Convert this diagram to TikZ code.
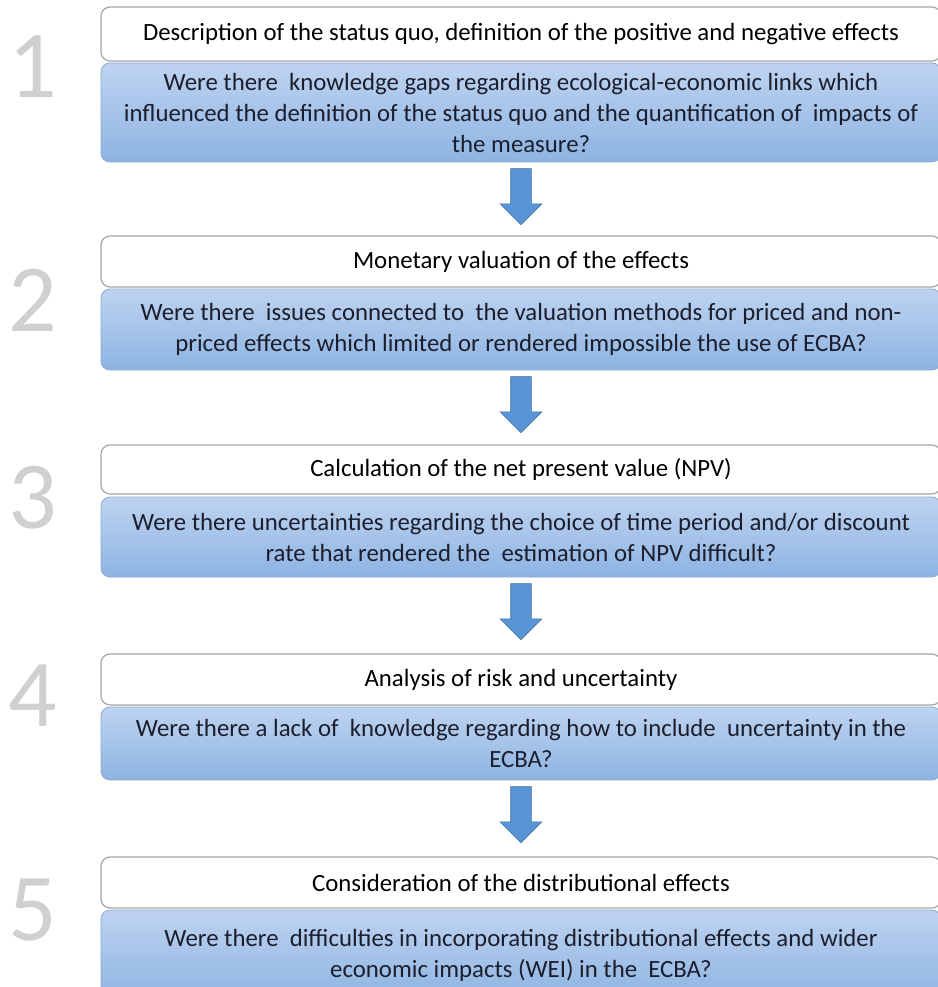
\documentclass[tikz,border=0pt]{standalone}
\usepackage{fontspec}
\setmainfont{Carlito}
\usetikzlibrary{shapes.arrows,positioning}
\definecolor{qtop}{RGB}{190,211,240}
\definecolor{qbottom}{RGB}{141,180,226}
\definecolor{qedge}{RGB}{140,170,212}
\definecolor{qtext}{RGB}{28,30,45}
\definecolor{tedge}{RGB}{166,166,166}
\definecolor{arrowfill}{RGB}{88,148,214}
\definecolor{arrowedge}{RGB}{65,113,156}
\definecolor{numgray}{RGB}{208,208,208}
\tikzset{
    titlebox/.style={rectangle, rounded corners=9pt, draw=tedge, line width=1.2pt, fill=white,
        minimum width=840pt, inner sep=0pt, font=\fontsize{24.8}{31}\selectfont}
}
\tikzset{
    questionbox/.style={rectangle, rounded corners=9pt, draw=qedge, line width=0.8pt,
        top color=qtop, bottom color=qbottom, minimum width=840pt, inner sep=0pt,
        align=center, text=qtext, font=\fontsize{24.8}{31}\selectfont}
}
\tikzset{stepnum/.style={text=numgray, inner sep=0pt, font=\fontsize{96}{96}\selectfont}}
\tikzset{
    downarrow/.style={single arrow, shape border rotate=270, draw=arrowedge, fill=arrowfill,
        line width=0.6pt, minimum height=56pt, inner sep=10pt, single arrow head extend=10.5pt}
}

\begin{document}
\begin{tikzpicture}[x=1pt, y=-1pt]
    \useasboundingbox (0,0) rectangle (937,987);

    \node (t1) [titlebox, minimum height=54pt] at (521,34) {Description of the status quo, definition of the positive and negative effects};
    \node (q1) [questionbox, minimum height=99pt] at (521,112.5) {Were there~ knowledge gaps regarding ecological-economic links which\\influenced the definition of the status quo and the quantification of~ impacts of\\the measure?};
    \node (n1) [stepnum] at (33,67) {1};

    \node (t2) [titlebox, minimum height=51pt] at (521,261.5) {Monetary valuation of the effects};
    \node (q2) [questionbox, minimum height=81pt] at (521,329.5) {Were there~ issues connected to~ the valuation methods for priced and non-\\priced effects which limited or rendered impossible the use of ECBA?};
    \node (n2) [stepnum] at (33,300) {2};

    \node (t3) [titlebox, minimum height=49pt] at (521,469.5) {Calculation of the net present value (NPV)};
    \node (q3) [questionbox, minimum height=80pt] at (521,537) {Were there uncertainties regarding the choice of time period and/or discount\\rate that rendered the~ estimation of NPV difficult?};
    \node (n3) [stepnum] at (33,498) {3};

    \node (t4) [titlebox, minimum height=51pt] at (521,679.5) {Analysis of risk and uncertainty};
    \node (q4) [questionbox, minimum height=73pt] at (521,743.5) {Were there a lack of~ knowledge regarding how to include~ uncertainty in the\\ECBA?};
    \node (n4) [stepnum] at (33,696) {4};

    \node (t5) [titlebox, minimum height=51pt] at (521,882.5) {Consideration of the distributional effects};
    \node (q5) [questionbox, minimum height=90pt] at (521,955) {Were there~ difficulties in incorporating distributional effects and wider\\economic impacts (WEI) in the~ ECBA?};
    \node (n5) [stepnum] at (33,910) {5};

    \node (a1) [downarrow, below=6pt of q1, anchor=tail] {};
    \node (a2) [downarrow, below=6pt of q2, anchor=tail] {};
    \node (a3) [downarrow, below=6pt of q3, anchor=tail] {};
    \node (a4) [downarrow, below=6pt of q4, anchor=tail] {};
\end{tikzpicture}
\end{document}
